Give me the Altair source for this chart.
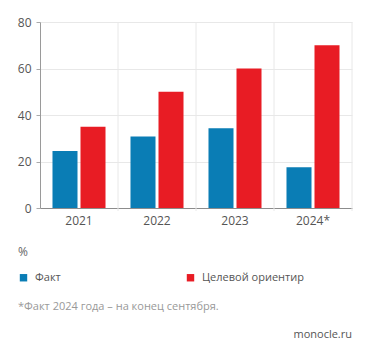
import altair as alt
import pandas as pd

years = ["2021", "2022", "2023", "2024*"]
fact = [24.5, 30.8, 34.3, 17.5]
target = [35, 50, 60, 70]
series = ["Факт", "Целевой ориентир"]
colors = ["#0a7db5", "#e81c24"]
y_ticks = [0, 20, 40, 60, 80]
unit = "%"
footnote = "*Факт 2024 года – на конец сентября."
source = "monocle.ru"

rows = []
for y, f, t in zip(years, fact, target):
    rows.append({"year": y, "series": series[0], "value": f})
    rows.append({"year": y, "series": series[1], "value": t})
df = pd.DataFrame(rows)
grid_df = pd.DataFrame({"year": years})

FONT = "Open Sans"
W, H = 312, 186

xscale = alt.Scale(domain=years, paddingInner=0, paddingOuter=0)

bars = alt.Chart(df).mark_bar().encode(
    x=alt.X("year:N", scale=xscale, sort=years, title=None,
            axis=alt.Axis(labelAngle=0, labelFontSize=12, labelColor="#555",
                          labelFont=FONT, labelPadding=7, ticks=False,
                          labelAlign="center", bandPosition=0.5,
                          domainColor="#8c8c8c", domainWidth=1.2, grid=False)),
    xOffset=alt.XOffset("series:N", sort=series,
                        scale=alt.Scale(paddingInner=0.107, paddingOuter=0.446)),
    y=alt.Y("value:Q", scale=alt.Scale(domain=[0, 80], nice=False), title=None,
            axis=alt.Axis(values=y_ticks, labelFontSize=12, labelColor="#555",
                          labelFont=FONT, labelPadding=5, tickSize=4,
                          tickColor="#aaa", domainColor="#9a9a9a",
                          gridColor="#e8e8e8", grid=True)),
    color=alt.Color("series:N", sort=series,
                    scale=alt.Scale(domain=series, range=colors),
                    legend=alt.Legend(orient="none", legendX=-22, legendY=250,
                                      direction="horizontal", title=None,
                                      symbolType="square", symbolSize=55,
                                      symbolStrokeWidth=0,
                                      labelFont=FONT, labelFontSize=11,
                                      labelColor="#555", columns=2,
                                      columnPadding=124, labelOffset=6)),
)

vgrid = alt.Chart(grid_df).mark_rule(color="#e8e8e8", strokeWidth=1).encode(
    x=alt.X("year:N", scale=xscale, sort=years, bandPosition=1, axis=None),
    y=alt.value(0),
    y2=alt.value(H + 3),
)

def txt(s, x, y, size, color, align="left"):
    return alt.Chart(pd.DataFrame({"t": [s]})).mark_text(
        align=align, baseline="middle", font=FONT, fontSize=size, color=color
    ).encode(text="t:N", x=alt.value(x), y=alt.value(y))

unit_t = txt(unit, -22, 230, 12, "#666")
foot_t = txt(footnote, -22, 285, 11, "#999")
src_t = txt(source, W, 313, 11, "#555", align="right")

chart = alt.layer(vgrid, bars, unit_t, foot_t, src_t).resolve_axis(x="independent").properties(
    width=W, height=H,
    autosize=alt.AutoSizeParams(type="none"),
    padding={"left": 32, "top": 14, "right": 8, "bottom": 138},
).configure_view(stroke=None)

chart.save("out.html", embed_options={"renderer": "svg", "actions": False})
